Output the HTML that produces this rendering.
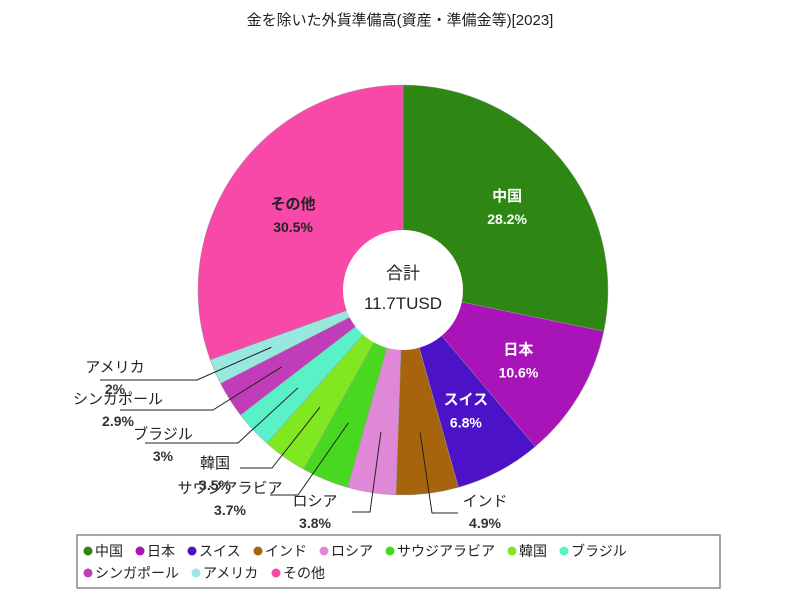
<!DOCTYPE html>
<html><head><meta charset="utf-8"><style>
body{margin:0;background:#fff;font-family:"Liberation Sans","Noto Sans CJK JP",sans-serif;}
svg text{font-family:"Liberation Sans","Noto Sans CJK JP",sans-serif;}
</style></head><body>
<svg id="chart" width="800" height="600" viewBox="0 0 800 600" xmlns="http://www.w3.org/2000/svg">
<text x="400" y="25" text-anchor="middle" font-size="15" fill="#222">金を除いた外貨準備高(資産・準備金等)[2023]</text>
<g id="slices"></g>
<g id="labels"></g>
<circle cx="403" cy="290" r="60" fill="#fff"/>
<text x="403" y="279" text-anchor="middle" font-size="17" fill="#222">合計</text>
<text x="403" y="309" text-anchor="middle" font-size="17" fill="#222">11.7TUSD</text>
<rect x="77" y="535" width="643" height="53" fill="#fff" stroke="#888" stroke-width="1.5"/>
<g id="legend"></g>
</svg>
<script>
const categories=["中国","日本","スイス","インド","ロシア","サウジアラビア","韓国","ブラジル","シンガポール","アメリカ","その他"];
const values=[28.2,10.6,6.8,4.9,3.8,3.7,3.5,3,2.9,2,30.5];
const valueLabels=["28.2%","10.6%","6.8%","4.9%","3.8%","3.7%","3.5%","3%","2.9%","2%","30.5%"];
const colors=["#2e8712","#a814b8","#4c12c8","#a8640c","#e088d8","#48d820","#80e820","#5af0c8","#c03cb8","#98e8e0","#f848a8"];
const NS="http://www.w3.org/2000/svg";
const cx=403,cy=290,R=205,r0=60;
const total=values.reduce((a,b)=>a+b,0);
function pt(a,rad){return [cx+rad*Math.sin(a),cy-rad*Math.cos(a)];}
function mk(tag,attrs,parent){const e=document.createElementNS(NS,tag);for(const k in attrs)e.setAttribute(k,attrs[k]);parent.appendChild(e);return e;}
const gS=document.getElementById('slices'),gL=document.getElementById('labels'),gG=document.getElementById('legend');
// label layout for outside labels: elbow point, line end x, text x, text y
const outside={3:[432,513,458,485,500],4:[370,512,352,315,500],5:[298,495,270,230,487],6:[272,468,240,215,462],7:[238,443,145,163,433],8:[213,410,120,118,398],9:[197,380,100,115,366]};
let acc=0;
values.forEach((v,i)=>{
  const a0=acc/total*2*Math.PI;acc+=v;const a1=acc/total*2*Math.PI;
  const [x0,y0]=pt(a0,R),[x1,y1]=pt(a1,R);const large=(a1-a0)>Math.PI?1:0;
  const p=mk('path',{d:`M${cx},${cy} L${x0},${y0} A${R},${R} 0 ${large} 1 ${x1},${y1} Z`,fill:colors[i],stroke:'#999','stroke-width':0.5},gS);
  
  
  const am=(a0+a1)/2;
  if(outside[i]){
    const o=outside[i];const [ax,ay]=pt(am,R*0.7);
    const l=mk('polyline',{points:`${ax},${ay} ${o[0]},${o[1]} ${o[2]},${o[1]}`,fill:'none',stroke:'#222','stroke-width':1},gL);
    
    
    const t=mk('text',{x:o[3],y:o[4]+6,'text-anchor':'middle','font-size':15,fill:'#222'},gL);t.textContent=categories[i];
    
    
    const t2=mk('text',{x:o[3],y:o[4]+28,'text-anchor':'middle','font-size':14,'font-weight':'bold',fill:'#333'},gL);t2.textContent=valueLabels[i];
    
    
  }else{
    const [lx,ly]=pt(am,R*0.655);const fc=i===10?'#222':'#fff';
    const t=mk('text',{x:lx,y:ly-4,'text-anchor':'middle','font-size':15,'font-weight':'bold',fill:fc},gL);t.textContent=categories[i];
    
    
    const t2=mk('text',{x:lx,y:ly+19,'text-anchor':'middle','font-size':14,'font-weight':'bold',fill:fc},gL);t2.textContent=valueLabels[i];
    
    
  }
});
// legend
let lx=88,ly=551;
categories.forEach((c,i)=>{
  const w=18+c.length*14+6;
  if(lx+w>715){lx=88;ly+=22;}
  const g=mk('g',{},gG);
  
  
  mk('circle',{cx:lx,cy:ly,r:4.5,fill:colors[i]},g);
  const t=mk('text',{x:lx+7,y:ly+5,'font-size':14,fill:'#222'},g);t.textContent=c;
  lx+=w;
});
</script>
</body></html>
